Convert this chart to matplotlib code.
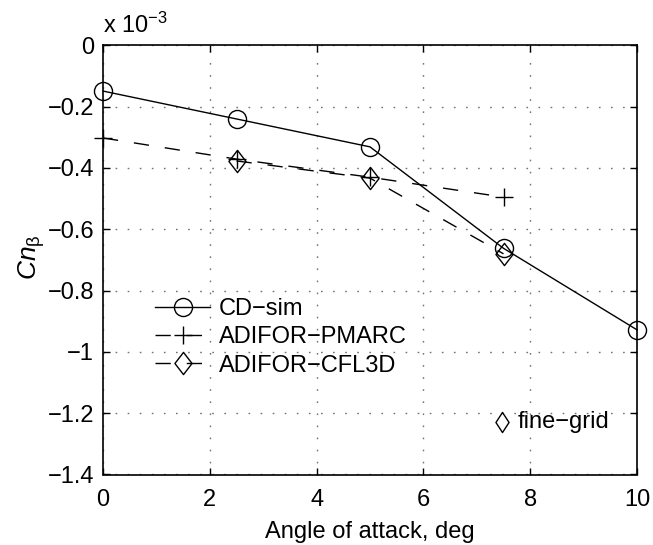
import matplotlib
matplotlib.use("Agg")
import matplotlib.pyplot as plt
from matplotlib.path import Path
import numpy as np

plt.rcParams['font.family'] = ['Liberation Sans', 'DejaVu Sans']
plt.rcParams['mathtext.fontset'] = 'custom'
plt.rcParams['mathtext.rm'] = 'Liberation Sans'
plt.rcParams['mathtext.it'] = 'Liberation Sans:italic'

cd_x = [0, 2.5, 5, 7.5, 10]
cd_y = [-0.149, -0.240, -0.331, -0.662, -0.928]
pm_x = [0, 2.5, 5, 7.5]
pm_y = [-0.302, -0.371, -0.430, -0.495]
cf_x = [2.5, 5, 7.5]
cf_y = [-0.377, -0.433, -0.680]
fine_x = [7.47]
fine_y = [-1.228]
xticks = [0, 2, 4, 6, 8, 10]
yticks = [0, -0.2, -0.4, -0.6, -0.8, -1.0, -1.2, -1.4]
ytick_labels = ['0', '\u22120.2', '\u22120.4', '\u22120.6', '\u22120.8', '\u22121', '\u22121.2', '\u22121.4']

W, H = 653, 545
L, R, T, B = 103, 637, 45.4, 474.5

fig = plt.figure(figsize=(W/100, H/100), dpi=100)
ax = fig.add_axes([L/W, 1 - B/H, (R-L)/W, (B-T)/H])

fs = 17

diamond = Path([(0, 1), (0.77, 0), (0, -1), (-0.77, 0), (0, 1)],
               [Path.MOVETO, Path.LINETO, Path.LINETO, Path.LINETO, Path.CLOSEPOLY])
diamond2 = Path([(0, 1), (0.65, 0), (0, -1), (-0.65, 0), (0, 1)],
                [Path.MOVETO, Path.LINETO, Path.LINETO, Path.LINETO, Path.CLOSEPOLY])

ax.plot(cd_x, cd_y, '-', color='k', lw=1.0, marker='o', ms=13, mfc='none', mec='k', mew=1.0,
        label='CD\u2212sim', zorder=3, clip_on=False)
ax.plot(pm_x, pm_y, color='k', lw=1.0, marker='+', ms=13, mew=1.0, dashes=(11, 11.5),
        label='ADIFOR\u2212PMARC', zorder=3, clip_on=False)
ax.plot(cf_x, cf_y, color='k', lw=1.0, marker=diamond, ms=16, mfc='none', mec='k', mew=1.0,
        dashes=(11, 11.5), label='ADIFOR\u2212CFL3D', zorder=3, clip_on=False)

ax.set_xlim(0, 10)
ax.set_ylim(-1.4, 0)
ax.set_xticks(xticks)
ax.set_yticks(yticks)
ax.set_yticklabels(ytick_labels)
ax.tick_params(direction='in', top=True, right=True, labelsize=fs, length=5, width=1.0)
ax.tick_params(axis='x', pad=10.5)
ax.tick_params(axis='y', pad=6.5)
ax.grid(True, linestyle=(0, (1.2, 7.5)), color='0.45', lw=1.0)
for s in ax.spines.values():
    s.set_linewidth(1.2)

ax.set_xlabel('Angle of attack, deg', fontsize=fs, labelpad=7)
ax.set_ylabel(r'$\mathit{Cn}_{\mathrm{\beta}}$', fontsize=fs + 2)
ax.yaxis.set_label_coords((47 - L) / (R - L), (B - 257) / (B - T))

fig.text(103/W, 1 - 33/H, r'x 10$^{-3}$', fontsize=fs, ha='left', va='baseline')

# fine-grid annotation
ax.plot(fine_x, fine_y, marker=diamond2, ms=14.5, mfc='none', mec='k', mew=1.0, ls='none')
ax.text(7.77, fine_y[0], 'fine\u2212grid', fontsize=fs, va='center', ha='left')

leg = ax.legend(loc='upper left', bbox_to_anchor=((155 - L) / (R - L), (B - 298) / (B - T)),
                frameon=False, fontsize=fs, handlelength=2.35, handletextpad=0.35,
                labelspacing=0.27, borderaxespad=0, borderpad=0)

fig.savefig('out.png', dpi=100)
